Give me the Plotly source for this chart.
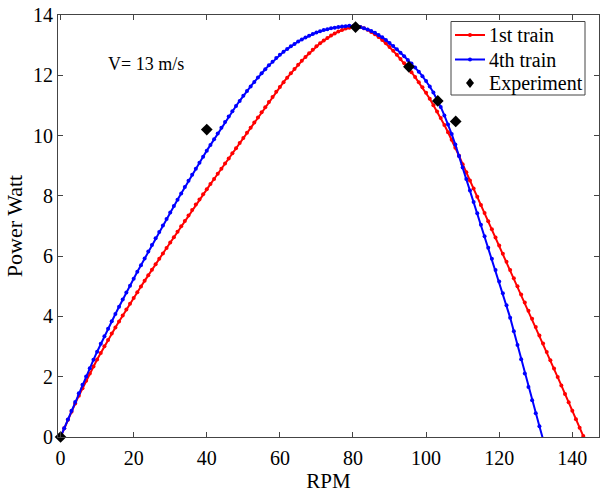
import plotly.graph_objects as go

# ---------------- data ----------------
rpm_1st = list(range(0, 145))
power_1st = [
    0.00, 0.29, 0.57, 0.84, 1.11, 1.37, 1.62, 1.87, 2.11, 2.34,
    2.57, 2.79, 3.01, 3.22, 3.43, 3.63, 3.83, 4.03, 4.23, 4.42,
    4.61, 4.80, 4.99, 5.18, 5.37, 5.55, 5.73, 5.91, 6.09, 6.27,
    6.45, 6.63, 6.81, 6.99, 7.17, 7.35, 7.53, 7.71, 7.88, 8.05,
    8.22, 8.39, 8.56, 8.73, 8.90, 9.07, 9.24, 9.41, 9.58, 9.75,
    9.92, 10.09, 10.26, 10.43, 10.60, 10.77, 10.94, 11.11, 11.28, 11.45,
    11.61, 11.77, 11.92, 12.07, 12.21, 12.35, 12.48, 12.61, 12.73, 12.85,
    12.96, 13.06, 13.15, 13.24, 13.32, 13.39, 13.45, 13.50, 13.55, 13.58,
    13.61, 13.62, 13.60, 13.56, 13.51, 13.44, 13.36, 13.27, 13.17, 13.06,
    12.94, 12.81, 12.68, 12.54, 12.40, 12.26, 12.10, 11.94, 11.77, 11.60,
    11.42, 11.22, 11.01, 10.80, 10.58, 10.35, 10.11, 9.86, 9.60, 9.33,
    9.05, 8.78, 8.51, 8.24, 7.97, 7.70, 7.43, 7.16, 6.89, 6.62,
    6.35, 6.08, 5.81, 5.54, 5.27, 5.00, 4.73, 4.46, 4.19, 3.92,
    3.65, 3.37, 3.10, 2.82, 2.55, 2.27, 1.99, 1.71, 1.43, 1.15,
    0.87, 0.59, 0.31, 0.03, -0.25,
]

rpm_4th = list(range(0, 133))
power_4th = [
    0.00, 0.29, 0.58, 0.87, 1.16, 1.45, 1.73, 2.01, 2.28, 2.56,
    2.83, 3.09, 3.34, 3.59, 3.84, 4.08, 4.32, 4.56, 4.79, 5.02,
    5.25, 5.48, 5.70, 5.92, 6.15, 6.37, 6.59, 6.80, 7.02, 7.23,
    7.45, 7.66, 7.87, 8.08, 8.29, 8.50, 8.70, 8.90, 9.10, 9.30,
    9.50, 9.69, 9.88, 10.07, 10.26, 10.45, 10.63, 10.81, 10.98, 11.15,
    11.32, 11.48, 11.63, 11.78, 11.93, 12.07, 12.20, 12.33, 12.45, 12.57,
    12.68, 12.78, 12.87, 12.96, 13.04, 13.12, 13.19, 13.25, 13.31, 13.37,
    13.42, 13.46, 13.50, 13.53, 13.56, 13.58, 13.60, 13.62, 13.63, 13.64,
    13.63, 13.62, 13.60, 13.56, 13.52, 13.47, 13.41, 13.34, 13.26, 13.17,
    13.07, 12.97, 12.86, 12.75, 12.63, 12.51, 12.39, 12.26, 12.12, 11.97,
    11.81, 11.63, 11.43, 11.21, 10.95, 10.67, 10.37, 10.05, 9.70, 9.32,
    8.94, 8.56, 8.18, 7.80, 7.42, 7.04, 6.66, 6.28, 5.91, 5.54,
    5.16, 4.77, 4.37, 3.96, 3.51, 3.05, 2.58, 2.11, 1.66, 1.22,
    0.79, 0.36, -0.08,
]

rpm_exp = [0, 40, 80.7, 95.3, 103.2, 108.1]
power_exp = [0.0, 10.2, 13.6, 12.28, 11.15, 10.47]

x_ticks = [0, 20, 40, 60, 80, 100, 120, 140]
y_ticks = [0, 2, 4, 6, 8, 10, 12, 14]

series_names = ["1st train", "4th train", "Experiment"]
series_colors = ["#ff0000", "#0000ff", "black"]

FONT = "Liberation Serif, Times New Roman, serif"
AXC = "#444444"

fig = go.Figure()
fig.add_trace(go.Scatter(
    x=rpm_1st, y=power_1st, name=series_names[0], mode="lines+markers",
    line=dict(color=series_colors[0], width=2),
    marker=dict(color=series_colors[0], size=4),
))
fig.add_trace(go.Scatter(
    x=rpm_4th, y=power_4th, name=series_names[1], mode="lines+markers",
    line=dict(color=series_colors[1], width=2),
    marker=dict(color=series_colors[1], size=4),
))
fig.add_trace(go.Scatter(
    x=rpm_exp, y=power_exp, name=series_names[2], mode="markers",
    marker=dict(color=series_colors[2], size=9, symbol="diamond"),
    cliponaxis=False,
))

fig.add_annotation(
    x=12.3, y=12.36, xref="x", yref="y", text="V= 13 m/s",
    showarrow=False, xanchor="left", yanchor="middle",
    font=dict(family=FONT, size=18, color="black"),
)

# ---------------- legend box drawn in paper space ----------------
L, T, PW, PH = 58, 15, 541, 422          # plot area in pixels


def px(xp):
    return (xp - L) / PW


def py(yp):
    return (T + PH - yp) / PH


fig.add_shape(type="rect", xref="paper", yref="paper",
              x0=px(451), x1=px(585), y0=py(95), y1=py(21.5),
              line=dict(color=AXC, width=1), fillcolor="white", layer="above")
row_y = [35, 59.5, 83]
for i in range(3):
    yc = row_y[i]
    if i < 2:
        fig.add_shape(type="line", xref="paper", yref="paper",
                      x0=px(455), x1=px(485), y0=py(yc), y1=py(yc),
                      line=dict(color=series_colors[i], width=2), layer="above")
        fig.add_shape(type="circle", xref="paper", yref="paper",
                      x0=px(468), x1=px(472), y0=py(yc + 2), y1=py(yc - 2),
                      line=dict(color=series_colors[i], width=0),
                      fillcolor=series_colors[i], layer="above")
    else:
        d = "M {a},{b} L {c},{d} L {e},{f} L {g},{h} Z".format(
            a=px(470), b=py(yc - 5), c=px(474), d=py(yc),
            e=px(470), f=py(yc + 5), g=px(466), h=py(yc))
        fig.add_shape(type="path", xref="paper", yref="paper", path=d,
                      line=dict(color="black", width=0), fillcolor="black",
                      layer="above")
    fig.add_annotation(x=px(487), y=py(yc), xref="paper", yref="paper",
                       text=series_names[i], showarrow=False,
                       xanchor="left", yanchor="middle",
                       font=dict(family=FONT, size=20, color="black"))

axis_common = dict(
    showline=True, linecolor=AXC, linewidth=1, mirror="ticks",
    ticks="inside", ticklen=5, tickcolor=AXC, tickwidth=1,
    showgrid=False, zeroline=False,
    tickfont=dict(family=FONT, size=20, color="black"),
)

fig.update_xaxes(
    range=[-0.7, 147.3], tickvals=x_ticks, ticklabelstandoff=3,
    title=dict(text="RPM", font=dict(family=FONT, size=21, color="black"), standoff=3),
    **axis_common,
)
fig.update_yaxes(
    range=[0, 14], tickvals=y_ticks,
    title=dict(text="Power Watt", font=dict(family=FONT, size=22, color="black"), standoff=4),
    **axis_common,
)

fig.update_layout(
    width=600, height=494,
    margin=dict(l=L, r=600 - L - PW, t=T, b=494 - T - PH),
    paper_bgcolor="white", plot_bgcolor="white",
    font=dict(family=FONT, color="black"),
    showlegend=False,
)

fig.write_html("out.html")
